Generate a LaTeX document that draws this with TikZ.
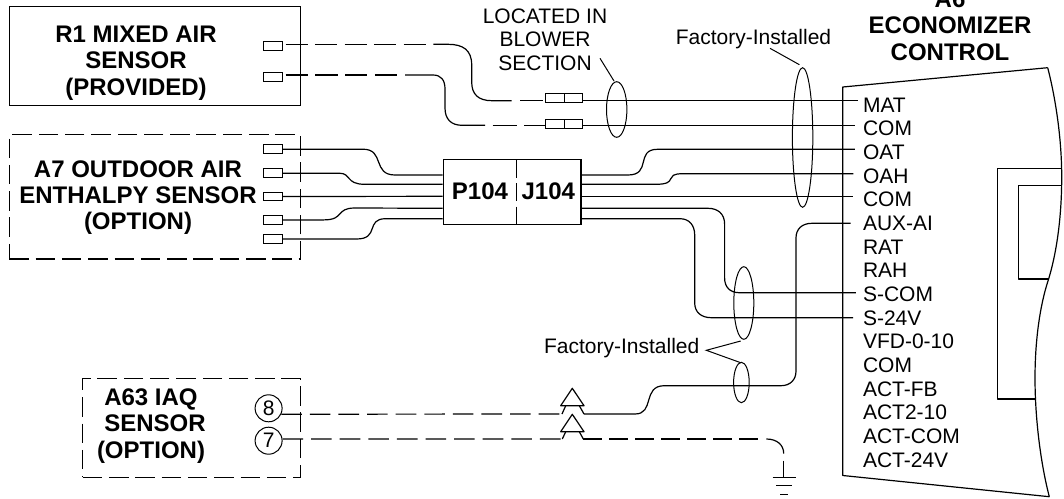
\documentclass[tikz,border=0pt]{standalone}
\usepackage{fontspec}
\setmainfont{Liberation Sans}
\tikzset{
  wire/.style={line width=1.2pt,line join=round},
  dashwire/.style={wire,dash pattern=on 22pt off 7pt},
  solidbox/.style={draw,line width=1.2pt,inner sep=0pt,rectangle},
  dashbox/.style={draw,line width=1.2pt,inner sep=0pt,rectangle,dash pattern=on 19.5pt off 6.8pt},
  pinbox/.style={draw,line width=1.1pt,inner sep=0pt,rectangle,minimum width=18.6pt,minimum height=8.8pt},
  title/.style={inner sep=0pt,align=center,font=\fontsize{24pt}{26.3pt}\selectfont\bfseries},
  plain/.style={inner sep=0pt,align=center,font=\fontsize{21pt}{23.5pt}\selectfont},
  term/.style={inner sep=0pt,anchor=base west,font=\fontsize{21pt}{23.5pt}\selectfont},
  numcirc/.style={draw,circle,line width=1pt,inner sep=0pt,minimum size=27pt,font=\fontsize{21pt}{23pt}\selectfont},
  band/.style={line width=1pt}
}
\begin{document}
\begin{tikzpicture}[x=1pt,y=-1pt]
\useasboundingbox (0,0) rectangle (1064,498);
% boxes
\node[solidbox,minimum width=291pt,minimum height=98.6pt] (r1) at (154.8,56) {};
\node[dashbox,minimum width=291pt,minimum height=124.3pt] (a7) at (154.8,196.9) {};
\node[dashbox,minimum width=217.6pt,minimum height=98.6pt] (a63) at (191.5,428) {};
\node[title] (r1t) at (136,63) {R1 MIXED AIR\\SENSOR\\(PROVIDED)};
\node[title] (a7t) at (138,197.5) {A7 OUTDOOR AIR\\ENTHALPY SENSOR\\(OPTION)};
\node[title] (a63t) at (151,426) {A63 IAQ\\\hspace*{8pt}SENSOR\\(OPTION)};
\node[title] (a6t) at (950,25.5) {A6\\ECONOMIZER\\CONTROL};
% pins
\node[pinbox] (ra) at (273,46.2) {};
\node[pinbox] (rb) at (273,77) {};
\node[pinbox] (s1) at (273,149.2) {};
\node[pinbox] (s2) at (273,173.2) {};
\node[pinbox] (s3) at (273,196.5) {};
\node[pinbox] (s4) at (273,219.9) {};
\node[pinbox] (s5) at (273,239) {};
\node[numcirc] (c8) at (268.6,408.3) {8};
\node[numcirc] (c7) at (268.6,440.7) {7};
% in-line connectors
\node[pinbox] (m1l) at (555.2,98) {};
\node[pinbox] (m1r) at (573.4,98) {};
\node[pinbox] (m2l) at (555.2,123.8) {};
\node[pinbox] (m2r) at (573.4,123.8) {};
% P104 / J104
\node[solidbox,minimum width=137.8pt,minimum height=65pt] (pj) at (512,191.6) {};
\node[title] (p104) at (480,191) {P104};
\node[title] (j104) at (548.3,191) {J104};
\draw[wire] (516.3,159.3) -- (516.3,178.3) (516.3,183) -- (516.3,200.7) (516.3,206.7) -- (516.3,224);
\foreach \n/\y in {1/175,2/184.3,3/196.3,4/208.3,5/218.7}{
  \coordinate (p\n) at (pj.west |- 0,\y);
  \coordinate (j\n) at (pj.east |- 0,\y);
}
% economizer body
\draw[wire] (1047.7,67.7) -- (842.8,87) -- (842.8,475.5) -- (1049.3,496.7)
  (1047.7,67.7) .. controls (1056,100) and (1061.7,140) .. (1061.7,176.7)
  .. controls (1061.7,220) and (1056,255) .. (1048.3,280)
  .. controls (1040,305) and (1035,340) .. (1035,378)
  .. controls (1035,420) and (1041,465) .. (1049.3,496.7);
\draw[wire] (1061.7,168.3) -- (997.7,168.3) -- (997.7,399) -- (1035,399);
\draw[wire] (1061.7,185.3) -- (1018.3,185.3) -- (1018.3,279) -- (1048.6,279);
% terminals
\foreach \i/\t in {0/MAT,1/COM,2/OAT,3/OAH,4/COM,5/AUX-AI,6/RAT,7/RAH,8/S-COM,9/S-24V,10/VFD-0-10,11/COM,12/ACT-FB,13/ACT2-10,14/ACT-COM,15/ACT-24V}{
  \node[term] (l\i) at (862.8,112+\i*23.67) {\t};
}
\coordinate (t0) at (857.6,100.7);
\coordinate (t1) at (854.8,125.3);
\coordinate (t2) at (854.8,149.3);
\coordinate (t3) at (853.4,173.7);
\coordinate (t4) at (853.4,196.3);
\coordinate (t5) at (850.6,223.3);
\coordinate (t8) at (855.8,292.7);
\coordinate (t9) at (853,317.7);
% R1 wires
\coordinate (ra0) at (ra.east |- 0,44.3);
\coordinate (rb0) at (rb.east |- 0,75);
\draw[wire,dash pattern=on 0pt off 2.7pt on 22pt off 7.2pt on 22.6pt off 7.2pt on 22pt off 7.2pt on 22.6pt off 7.2pt on 22.6pt off 7.2pt] (ra0) -- (433.3,44.3);
\draw[wire] (433.3,44.3) -- (448,44.3) .. controls (463,44.3) and (471.7,50) .. (471.7,65) -- (471.7,82) .. controls (471.7,94) and (478,100.7) .. (492,100.7) -- (511.7,100.7);
\draw[wire,dash pattern=on 0pt off 8.3pt on 22.7pt off 3.3pt] (511.7,100.7) -- (m1l.west |- 0,100.7);
\draw[wire,dash pattern=on 0pt off 2.7pt on 22pt off 7.6pt on 22.4pt off 7.6pt on 22pt off 7.6pt on 22.4pt off 7.6pt] (rb0) -- (405,75);
\draw[wire] (405,75) -- (433,75) .. controls (441,75) and (445,80) .. (445,89) -- (445,108) .. controls (445,119) and (451,125.3) .. (462,125.3) -- (485,125.3);
\draw[wire,dash pattern=on 0pt off 7.7pt on 24pt off 7.3pt on 22pt] (485,125.3) -- (m2l.west |- 0,125.3);
\draw[wire] (m1r.east |- t0) -- (t0);
\draw[wire] (m2r.east |- t1) -- (t1);
% A7 wires
\draw[wire] (s1.east) -- (363,149.2) .. controls (385,149.2) and (372,175) .. (395,175) -- (p1);
\draw[wire] (s2.east) -- (339,173.2) .. controls (352,173.2) and (345,184.3) .. (365,184.3) -- (p2);
\draw[wire] (s3.east) -- (p3);
\draw[wire] (s4.east) -- (323.7,219.9) .. controls (345,219.9) and (335,208) .. (355,208) -- (p4);
\draw[wire] (s5.east) -- (356.5,239) .. controls (380,239) and (365,218.7) .. (385.7,218.7) -- (p5);
% J104 wires
\draw[wire] (j1) -- (628,175) .. controls (652,175) and (635,149.3) .. (657.5,149.3) -- (t2);
\draw[wire] (j2) -- (655.7,184.3) .. controls (680,184.3) and (662,173.7) .. (683,173.7) -- (t3);
\draw[wire] (j3) -- (t4);
\draw[wire] (j4) -- (708,208.3) .. controls (718,208.3) and (724.6,214) .. (724.6,224) -- (724.6,278) .. controls (724.6,287) and (730,292.7) .. (739.2,292.7) -- (t8);
\draw[wire] (j5) -- (680,218.7) .. controls (689,218.7) and (694.7,225) .. (694.7,235) -- (694.7,303) .. controls (694.7,312) and (701,317.7) .. (711.4,317.7) -- (t9);
% A63 wires
\draw[dashwire,dash pattern=on 20.6pt off 8pt] (c8.-25) -- (560.7,414);
\draw[dashwire,dash pattern=on 20.6pt off 8pt] (c7.7) -- (560.7,439);
\draw[wire] (584,414) -- (635,414) .. controls (655,414) and (642,385.7) .. (664.4,385.7) -- (781,385.7) .. controls (790,385.7) and (796,380) .. (796,371) -- (796,238) .. controls (796,229) and (802,223.3) .. (812,223.3) -- (t5);
\draw[dashwire,dash pattern=on 18.6pt off 7.4pt] (583.3,439) -- (759.4,439);
\draw[wire] (766.4,439) .. controls (777,439) and (783.7,445) .. (783.7,453.5);
% two-pin contacts
\draw[wire] (572.3,388.3) -- (584,405.7) -- (560.7,405.7) -- cycle;
\draw[wire] (565.7,405.7) -- (562,414) (579.3,405.7) -- (584,414);
\draw[wire] (572.3,414.3) -- (584,431.7) -- (560.7,431.7) -- cycle;
\draw[wire] (565.7,431.7) -- (562.3,439) (579.3,431.7) -- (583.3,439);
% ground
\coordinate (gnd) at (783.7,477.3);
\draw[wire] (783.7,460.7) -- (gnd);
\draw[wire] (772.6,477.3) -- (795.9,477.3) (776,485.7) -- (792.4,485.7) (780,494.3) -- (788,494.3);
% cable bands
\draw[band] (616.7,109.5) ellipse (10.2 and 27.8);
\draw[band] (802.6,137.5) ellipse (10.2 and 69.8);
\draw[band] (743.8,303) ellipse (10 and 36.3);
\draw[band] (741.4,382.5) ellipse (7.8 and 20.2);
% labels and leaders
\node[plain] (loc) at (545,39.5) {LOCATED IN\\BLOWER\\SECTION};
\node[plain] (f1) at (753.5,39) {Factory-Installed};
\node[plain] (f2) at (621.7,347.7) {Factory-Installed};
\draw[band] (600,58.3) -- (614,81);
\draw[band] (770,48.3) -- (799.4,64.7);
\draw[band] (740.7,341) -- (706.3,350.3) -- (740.7,362.7);
\end{tikzpicture}
\end{document}
